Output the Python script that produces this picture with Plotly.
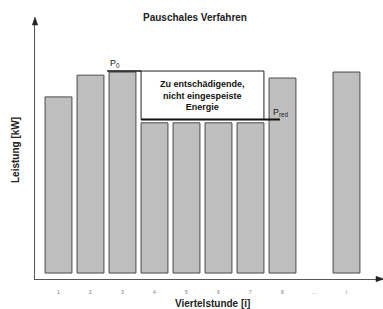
import plotly.graph_objects as go

# ---- data ----
categories = ["1", "2", "3", "4", "5", "6", "7", "8", "...", "i"]
leistung = [68.0, 76.4, 77.6, 58.0, 58.0, 58.0, 58.0, 75.3, None, 77.6]
p0_level = 78.0
p_red_level = 59.3
title_text = "Pauschales Verfahren"
x_title = "Viertelstunde [i]"
y_title = "Leistung [kW]"
box_text = "Zu entschädigende,<br>nicht eingespeiste<br>Energie"

FONT = "Liberation Sans, Arial, sans-serif"
W, H = 383, 309
ML, MR, MT, MB = 35, 0, 20, 30
px_per_slot = 32.0
plot_w = W - ML - MR
plot_h = H - MT - MB
x_start = -0.734
x_end = x_start + plot_w / px_per_slot


def px(xp):
    return (xp - ML) / plot_w


def py(yp):
    return (H - MB - yp) / plot_h


fig = go.Figure()
fig.add_trace(go.Bar(
    x=categories, y=leistung, width=0.84,
    marker=dict(color="#bfbfbf", line=dict(color="#4a4a4a", width=1)),
    hoverinfo="skip", showlegend=False,
))

# reduced-energy box (slots 4..7, index 3..6)
fig.add_shape(type="rect", xref="x", yref="y", x0=2.58, x1=6.42,
              y0=p_red_level, y1=p0_level,
              line=dict(color="#222", width=1), fillcolor="white", layer="above")
# P0 line
fig.add_shape(type="line", xref="x", yref="y", x0=1.52, x1=2.58,
              y0=p0_level, y1=p0_level, line=dict(color="#111", width=1.5))
# P_red line
fig.add_shape(type="line", xref="x", yref="y", x0=2.58, x1=6.92,
              y0=p_red_level, y1=p_red_level, line=dict(color="#111", width=2))

fig.add_annotation(x=4.5, y=(p0_level + p_red_level) / 2, xref="x", yref="y",
                   text="<b>" + box_text + "</b>", showarrow=False,
                   font=dict(family=FONT, size=9, color="#111"), align="center")
fig.add_annotation(x=1.78, y=p0_level, xref="x", yref="y", yanchor="bottom",
                   text="P<sub>0</sub>", showarrow=False,
                   font=dict(family=FONT, size=9, color="#222"))
fig.add_annotation(x=6.95, y=p_red_level, xref="x", yref="y", yanchor="bottom",
                   text="P<sub>red</sub>", showarrow=False, yshift=-1,
                   font=dict(family=FONT, size=9, color="#222"))

# titles
fig.update_layout(
    title=dict(text="<b>" + title_text + "</b>", x=195 / W, xanchor="center",
               y=1 - 17 / H, yanchor="middle",
               font=dict(family=FONT, size=10, color="#222")),
)
fig.add_annotation(x=px(212), y=py(303),
                   xref="paper", yref="paper", showarrow=False,
                   text="<b>" + x_title + "</b>", yanchor="middle",
                   font=dict(family=FONT, size=10, color="#222"))
fig.add_annotation(x=px(15), y=py(150),
                   xref="paper", yref="paper", showarrow=False, textangle=-90,
                   text="<b>" + y_title + "</b>", xanchor="center",
                   font=dict(family=FONT, size=10, color="#222"))

# axis arrowheads (small filled triangles)
fig.add_shape(type="path", xref="paper", yref="paper",
              path=f"M {px(32.3)} {py(25)} L {px(37.7)} {py(25)} L {px(35)} {py(17)} Z",
              fillcolor="#222", line=dict(color="#222", width=0.5))
fig.add_shape(type="path", xref="paper", yref="paper",
              path=f"M {px(376)} {py(276.3)} L {px(376)} {py(281.7)} L {px(384)} {py(279)} Z",
              fillcolor="#222", line=dict(color="#222", width=0.5))

fig.update_xaxes(range=[x_start, x_end], showline=True, linecolor="#555",
                 linewidth=1.2, showgrid=False, zeroline=False,
                 ticks="outside", ticklen=8, tickcolor="rgba(0,0,0,0)",
                 tickfont=dict(family=FONT, size=5, color="#777"),
                 type="category", fixedrange=True, automargin=False)
fig.update_yaxes(range=[-2.3, 97.7], showline=True, linecolor="#555",
                 linewidth=1.2, showgrid=False, zeroline=False,
                 showticklabels=False, ticks="", fixedrange=True, automargin=False)

fig.update_layout(
    width=W, height=H,
    margin=dict(l=ML, r=MR, t=MT, b=MB, pad=0),
    paper_bgcolor="white", plot_bgcolor="white",
    bargap=0.16, showlegend=False,
)

fig.write_html("out.html", config={"displayModeBar": False},
               post_script="document.body.style.margin='0';document.body.style.overflow='hidden';")
